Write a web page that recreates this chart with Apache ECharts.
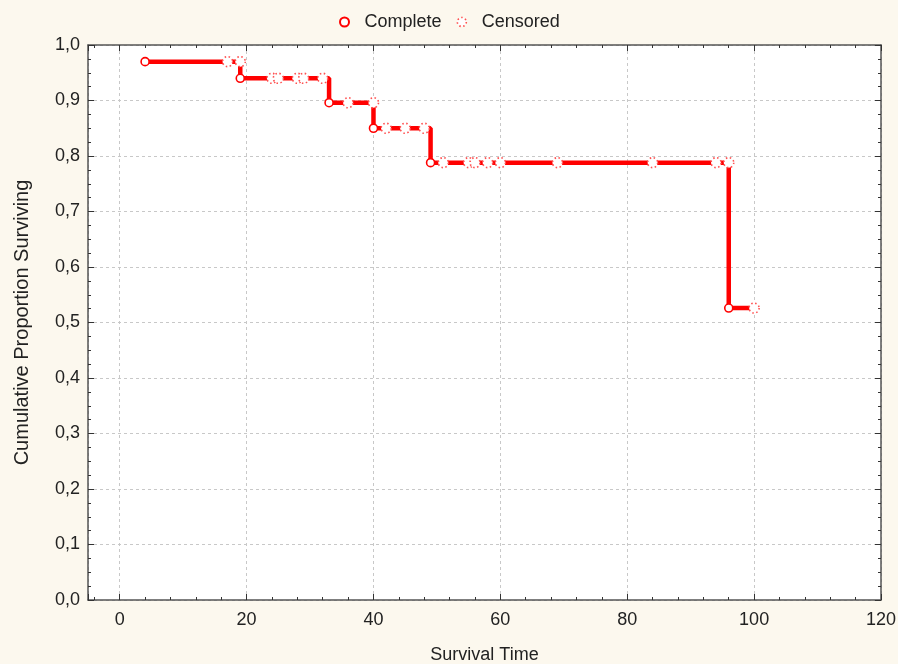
<!DOCTYPE html>
<html>
<head>
<meta charset="utf-8">
<script src="https://cdn.jsdelivr.net/npm/echarts@6/dist/echarts.min.js"></script>
<style>
html,body{margin:0;padding:0;background:#fcf8ee;}
#c{width:898px;height:664px;}
</style>
</head>
<body>
<div id="c"></div>
<script>
// Data
const completeTime = [4, 19, 33, 40, 49, 96];
const completeSurv = [0.97, 0.94, 0.896, 0.85, 0.788, 0.526];
const censoredTime = [17, 19, 24, 25, 28, 29, 32, 36, 40, 42, 45, 48, 51, 55, 56, 58, 60, 69, 84, 94, 96, 100];
const censoredSurv = [0.97, 0.97, 0.94, 0.94, 0.94, 0.94, 0.94, 0.896, 0.896, 0.85, 0.85, 0.85,
                      0.788, 0.788, 0.788, 0.788, 0.788, 0.788, 0.788, 0.788, 0.788, 0.526];
const xTickLabels = [0, 20, 40, 60, 80, 100, 120];
const yTickLabels = ['0,0','0,1','0,2','0,3','0,4','0,5','0,6','0,7','0,8','0,9','1,0'];

const completePts = completeTime.map((t, i) => [t, completeSurv[i]]);
const censoredPts = censoredTime.map((t, i) => [t, censoredSurv[i]]);
const lastT = censoredTime[censoredTime.length - 1];
const lastS = censoredSurv[censoredSurv.length - 1];
const curvePts = completePts.concat([[lastT, lastS]]);

const FONT = 'Liberation Sans, Arial, sans-serif';
const RED = '#ff0000';

const chart = echarts.init(document.getElementById('c'), null, {renderer: 'canvas'});

const baseX = {
  type: 'value', min: -5, max: 120, splitNumber: 6,
  axisLine: {show: true, onZero: false, lineStyle: {color: '#555', width: 1.5}},
  axisTick: {show: true, inside: true, length: 6, lineStyle: {color: '#333'}},
  minorTick: {show: true, splitNumber: 5, length: 3, lineStyle: {color: '#333'}},
};
const baseY = {
  type: 'value', min: 0, max: 1, interval: 0.1,
  axisLine: {show: true, onZero: false, lineStyle: {color: '#555', width: 1.5}},
  axisTick: {show: true, inside: true, length: 6, lineStyle: {color: '#333'}},
  minorTick: {show: true, splitNumber: 4, length: 3, lineStyle: {color: '#333'}},
};

const censoredStyle = {color: '#ffffff', borderColor: '#ff5050', borderWidth: 1.6, borderType: [1.5, 2.5], opacity: 1};

chart.setOption({
  backgroundColor: '#fcf8ee',
  animation: false,
  grid: {left: 88, right: 17, top: 45, bottom: 64, show: true, backgroundColor: '#ffffff', borderWidth: 0,
         containLabel: false, outerBoundsMode: 'none'},
  legend: {
    top: 8, left: 334,
    itemWidth: 30, itemHeight: 9, itemGap: 15,
    textStyle: {fontFamily: FONT, fontSize: 18, color: '#222'},
    data: [
      {name: 'Complete', icon: 'circle'},
      {name: 'Censored', icon: 'circle', itemStyle: censoredStyle}
    ]
  },
  xAxis: [
    Object.assign({}, baseX, {
      position: 'bottom',
      name: 'Survival Time', nameLocation: 'middle', nameGap: 46,
      nameTextStyle: {fontFamily: FONT, fontSize: 18, color: '#222'},
      axisLabel: {
        margin: 11, fontFamily: FONT, fontSize: 18, color: '#222',
        formatter: v => (xTickLabels.indexOf(v) >= 0 ? String(v) : '')
      },
      splitLine: {show: true, lineStyle: {color: '#c8c8c8', type: [3, 3], width: 1}}
    }),
    Object.assign({}, baseX, {
      position: 'top',
      axisLabel: {show: false},
      splitLine: {show: false}
    })
  ],
  yAxis: [
    Object.assign({}, baseY, {
      position: 'left',
      name: 'Cumulative Proportion Surviving', nameLocation: 'middle', nameGap: 56, nameRotate: 90,
      nameTextStyle: {fontFamily: FONT, fontSize: 20, color: '#222'},
      axisLabel: {
        margin: 8, fontFamily: FONT, fontSize: 18, color: '#222',
        formatter: v => yTickLabels[Math.round(v * 10)] || ''
      },
      splitLine: {show: true, lineStyle: {color: '#c8c8c8', type: [3, 3], width: 1}}
    }),
    Object.assign({}, baseY, {
      position: 'right',
      axisLabel: {show: false},
      splitLine: {show: false}
    })
  ],
  series: [
    {
      name: 'curve', type: 'line', step: 'end', data: curvePts,
      symbol: 'none', silent: true,
      lineStyle: {color: RED, width: 4.5},
      z: 2
    },
    {
      name: 'Complete', type: 'scatter', data: completePts,
      symbol: 'circle', symbolSize: 8,
      itemStyle: {color: '#ffffff', borderColor: RED, borderWidth: 1.6, opacity: 1},
      z: 3
    },
    {
      name: 'Censored', type: 'scatter', data: censoredPts,
      symbol: 'circle', symbolSize: 10,
      itemStyle: censoredStyle,
      z: 3
    }
  ]
});
</script>
</body>
</html>
